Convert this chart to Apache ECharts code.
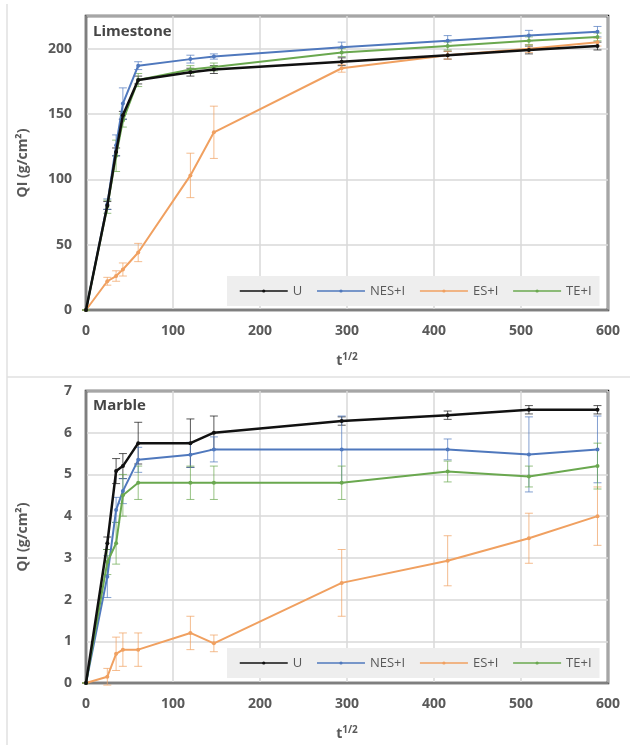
<!DOCTYPE html>
<html>
<head>
<meta charset="utf-8">
<script src="https://cdn.jsdelivr.net/npm/echarts@6/dist/echarts.min.js"></script>
<style>
  html, body { margin: 0; padding: 0; background: #fff; }
  #main { width: 630px; height: 745px; }
</style>
</head>
<body>
<div id="main"></div>
<script>
// t^1/2 values (sqrt of seconds)
var tVals = [0, 24.5, 34.6, 42.4, 60, 120, 147, 293.9, 415.7, 509.1, 587.9];
var seriesNames = ["U", "NES+I", "ES+I", "TE+I"];
var colors = ["#111111", "#4f78bd", "#f0a060", "#6aa84f"];

// Limestone
var limeU   = [0, 80, 121, 149, 176, 182, 184, 190, 195, 199, 202];
var limeNES = [0, 81, 126, 158, 187, 192, 194, 201, 206, 210, 213];
var limeES  = [0, 22, 26, 31, 44, 103, 136, 185, 195, 200, 205];
var limeTE  = [0, 79, 118, 145, 176, 184, 186, 197, 202, 206, 209];
var limeErrU   = [0, 3, 3, 3, 3, 3, 3, 3, 3, 3, 3];
var limeErrNES = [0, 4, 8, 12, 3, 3, 2, 4, 4, 4, 4];
var limeErrES  = [0, 3, 4, 5, 7, 17, 20, 3, 3, 3, 3];
var limeErrTE  = [0, 5, 12, 5, 5, 3, 3, 3, 3, 3, 3];

// Marble
var marbU   = [0, 3.35, 5.08, 5.2, 5.75, 5.75, 6.0, 6.28, 6.42, 6.55, 6.55];
var marbNES = [0, 2.55, 4.15, 4.6, 5.35, 5.47, 5.6, 5.6, 5.6, 5.48, 5.6];
var marbES  = [0, 0.15, 0.7, 0.8, 0.8, 1.2, 0.95, 2.4, 2.93, 3.47, 4.0];
var marbTE  = [0, 2.9, 3.35, 4.5, 4.8, 4.8, 4.8, 4.8, 5.07, 4.95, 5.2];
var marbErrU   = [0, 0.15, 0.3, 0.3, 0.5, 0.58, 0.4, 0.1, 0.1, 0.1, 0.1];
var marbErrNES = [0, 0.5, 0.3, 0.3, 0.3, 0.3, 0.3, 0.8, 0.25, 0.9, 0.8];
var marbErrES  = [0, 0.2, 0.4, 0.4, 0.4, 0.4, 0.2, 0.8, 0.6, 0.6, 0.7];
var marbErrTE  = [0, 0.3, 0.5, 0.5, 0.4, 0.4, 0.4, 0.4, 0.25, 0.25, 0.55];

var myChart = echarts.init(document.getElementById("main"));
var labelColor = "#595959";

function pairs(ys) {
  return tVals.map(function (t, i) { return [t, ys[i]]; });
}
function errData(ys, errs) {
  return tVals.map(function (t, i) { return [t, ys[i] - errs[i], ys[i] + errs[i]]; });
}
// error bars: vertical line with caps
function renderErr(color) {
  return function (params, api) {
    var x = api.value(0);
    var p1 = api.coord([x, api.value(2)]);
    var p2 = api.coord([x, api.value(1)]);
    var w = 4;
    var st = { stroke: color, lineWidth: 1, opacity: 0.7 };
    return {
      type: "group",
      children: [
        { type: "line", shape: { x1: p1[0], y1: p1[1], x2: p2[0], y2: p2[1] }, style: st },
        { type: "line", shape: { x1: p1[0] - w, y1: p1[1], x2: p1[0] + w, y2: p1[1] }, style: st },
        { type: "line", shape: { x1: p2[0] - w, y1: p2[1], x2: p2[0] + w, y2: p2[1] }, style: st }
      ]
    };
  };
}

function makeX(gi) {
  return {
    gridIndex: gi, type: "value", min: 0, max: 600, interval: 100,
    name: "{a|t}{b|1/2}", nameLocation: "middle", nameGap: 42,
    nameTextStyle: {
      rich: {
        a: { fontSize: 14, fontWeight: "bold", color: labelColor, fontFamily: "Open Sans" },
        b: { fontSize: 10, fontWeight: "bold", color: labelColor, fontFamily: "Open Sans", padding: [0, 0, 9, 0] }
      }
    },
    axisLine: { onZero: false, lineStyle: { color: "#7f7f7f", width: 2 } },
    axisTick: { show: false },
    axisLabel: { color: labelColor, fontSize: 14, fontWeight: "bold", fontFamily: "Open Sans", margin: 14 },
    splitLine: { show: true, lineStyle: { color: "#d9d9d9", width: 1.5 } }
  };
}
function makeY(gi, max, interval) {
  return {
    gridIndex: gi, type: "value", min: 0, max: max, interval: interval,
    name: "QI (g/cm²)", nameLocation: "middle", nameGap: 56, nameRotate: 90,
    nameTextStyle: { color: labelColor, fontSize: 14, fontWeight: "bold", fontFamily: "Open Sans" },
    axisLine: { show: true, lineStyle: { color: "#7f7f7f", width: 2 } },
    axisTick: { show: false },
    axisLabel: {
      color: labelColor, fontSize: 14, fontWeight: "bold", fontFamily: "Open Sans", margin: 14,
      formatter: function (v) { return v % interval === 0 ? String(v) : ""; }
    },
    splitLine: { show: true, lineStyle: { color: "#d9d9d9", width: 1.5 } }
  };
}

var lime = [limeU, limeNES, limeES, limeTE];
var limeErr = [limeErrU, limeErrNES, limeErrES, limeErrTE];
var marb = [marbU, marbNES, marbES, marbTE];
var marbErr = [marbErrU, marbErrNES, marbErrES, marbErrTE];

var series = [];
[[lime, limeErr], [marb, marbErr]].forEach(function (set, gi) {
  set[0].forEach(function (ys, k) {
    series.push({
      name: "err" + gi + k, type: "custom", xAxisIndex: gi, yAxisIndex: gi,
      renderItem: renderErr(colors[k]), data: errData(ys, set[1][k]), z: 1, silent: true
    });
  });
  set[0].forEach(function (ys, k) {
    series.push({
      name: seriesNames[k], type: "line", xAxisIndex: gi, yAxisIndex: gi,
      data: pairs(ys), symbol: "circle", symbolSize: 4, z: 3 + (k === 0 ? 1 : 0),
      lineStyle: { color: colors[k], width: k === 0 ? 2.5 : 2 },
      itemStyle: { color: colors[k] }
    });
  });
});

function makeLegend(top) {
  return {
    data: seriesNames, left: 227, top: top, orient: "horizontal",
    backgroundColor: "#eeeeee", padding: [8, 8, 8, 12],
    itemWidth: 48, itemHeight: 4, itemGap: 14,
    lineStyle: { width: 1.5 },
    textStyle: { color: labelColor, fontSize: 13, fontFamily: "Open Sans", lineHeight: 14 }
  };
}

var option = {
  animation: false,
  grid: [
    { left: 86, top: 16, right: 22, height: 294, show: true, borderColor: "#111", borderWidth: 2.5 },
    { left: 86, top: 391, right: 22, height: 292, show: true, borderColor: "#111", borderWidth: 2.5 }
  ],
  xAxis: [makeX(0), makeX(1)],
  yAxis: [makeY(0, 225, 50), makeY(1, 7, 1)],
  legend: [makeLegend(276), makeLegend(648)],
  graphic: [
    { type: "line", shape: { x1: 7, y1: 4, x2: 7, y2: 745 }, style: { stroke: "#e0e0e0", lineWidth: 1.5 } },
    { type: "line", shape: { x1: 7, y1: 377, x2: 630, y2: 377 }, style: { stroke: "#e0e0e0", lineWidth: 1.5 } },
    { type: "text", left: 93, top: 24, style: { text: "Limestone", fill: "#454545", font: "bold 15px 'Open Sans'" }, z: 10 },
    { type: "text", left: 93, top: 398, style: { text: "Marble", fill: "#454545", font: "bold 15px 'Open Sans'" }, z: 10 }
  ],
  series: series
};
option && myChart.setOption(option);
</script>
</body>
</html>
